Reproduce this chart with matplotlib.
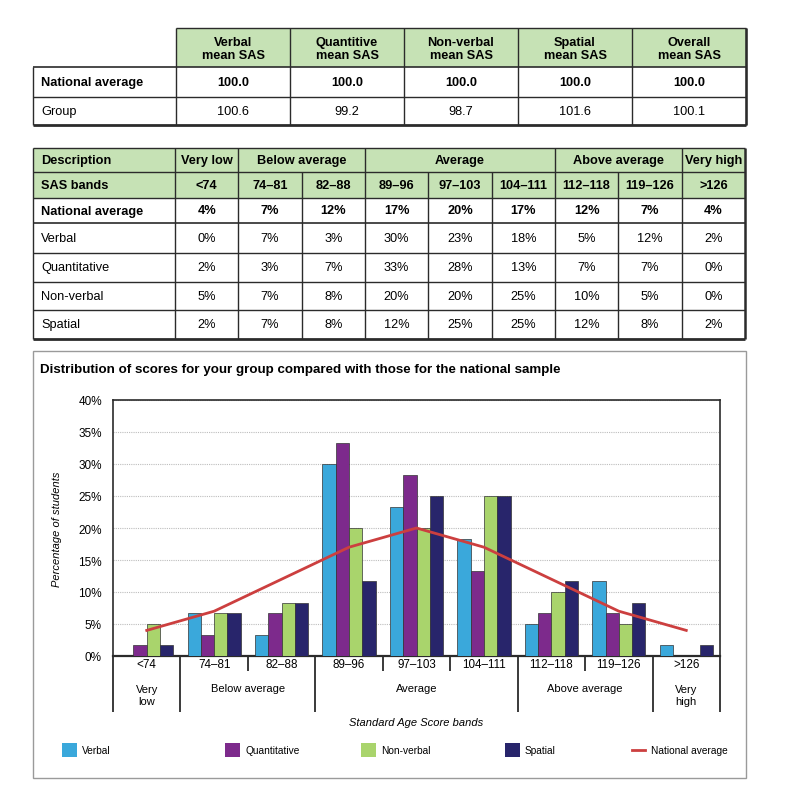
import matplotlib
matplotlib.use("Agg")
import matplotlib.pyplot as plt
from matplotlib.patches import Rectangle

plt.rcParams['font.family'] = ['Liberation Sans', 'DejaVu Sans']

# ---------------- data ----------------
mean_headers = ["Verbal\nmean SAS", "Quantitive\nmean SAS", "Non-verbal\nmean SAS",
                "Spatial\nmean SAS", "Overall\nmean SAS"]
mean_national = ["100.0", "100.0", "100.0", "100.0", "100.0"]
mean_group = ["100.6", "99.2", "98.7", "101.6", "100.1"]

desc_groups = ["Very low", "Below average", "Average", "Above average", "Very high"]
desc_spans = [1, 2, 3, 2, 1]
bands = ["<74", "74–81", "82–88", "89–96", "97–103", "104–111", "112–118", "119–126", ">126"]
table_rows = ["National average", "Verbal", "Quantitative", "Non-verbal", "Spatial"]
table_pct = [
    [4, 7, 12, 17, 20, 17, 12, 7, 4],
    [0, 7, 3, 30, 23, 18, 5, 12, 2],
    [2, 3, 7, 33, 28, 13, 7, 7, 0],
    [5, 7, 8, 20, 20, 25, 10, 5, 0],
    [2, 7, 8, 12, 25, 25, 12, 8, 2],
]

series_names = ["Verbal", "Quantitative", "Non-verbal", "Spatial"]
verbal = [0, 6.7, 3.3, 30.0, 23.3, 18.3, 5.0, 11.7, 1.7]
quantitative = [1.7, 3.3, 6.7, 33.3, 28.3, 13.3, 6.7, 6.7, 0]
nonverbal = [5.0, 6.7, 8.3, 20.0, 20.0, 25.0, 10.0, 5.0, 0]
spatial = [1.7, 6.7, 8.3, 11.7, 25.0, 25.0, 11.7, 8.3, 1.7]
national = [4, 7, 12, 17, 20, 17, 12, 7, 4]
yticks = [0, 5, 10, 15, 20, 25, 30, 35, 40]

colors = ["#3AA8DB", "#7D2A8C", "#A9D46C", "#28256B"]
nat_color = "#CC3F3F"
green = "#C6E2B5"
dark = "#2b2b2b"

W, H = 787, 803
fig = plt.figure(figsize=(W / 100, H / 100), dpi=100)
lay = fig.add_axes([0, 0, 1, 1])
lay.set_xlim(0, W)
lay.set_ylim(H, 0)
lay.axis("off")


def rect(x0, y0, x1, y1, fc):
    lay.add_patch(Rectangle((x0, y0), x1 - x0, y1 - y0, facecolor=fc, edgecolor="none"))


def hl(y, x0, x1, lw=1.0, c=dark):
    lay.plot([x0, x1], [y, y], color=c, lw=lw, solid_capstyle="butt")


def vl(x, y0, y1, lw=1.0, c=dark):
    lay.plot([x, x], [y0, y1], color=c, lw=lw, solid_capstyle="butt")


FS = 9.2

# ---------------- table 1 ----------------
t1_left, t1_lab, t1_right = 33, 176, 746
t1_rows = [29, 68, 98, 126]
cw1 = (t1_right - t1_lab) / 5
rect(t1_lab, t1_rows[0], t1_right, t1_rows[1], green)
hl(t1_rows[0], t1_lab, t1_right)
hl(t1_rows[1], t1_left, t1_right, lw=1.2)
hl(t1_rows[2], t1_left, t1_right)
hl(t1_rows[3], t1_left, t1_right, lw=2)
vl(t1_left, t1_rows[1], t1_rows[3])
vl(t1_right, t1_rows[0], t1_rows[3], lw=1.8)
for j in range(6):
    vl(t1_lab + j * cw1, t1_rows[0], t1_rows[3])
for j in range(5):
    cx = t1_lab + (j + 0.5) * cw1
    lay.text(cx, (t1_rows[0] + t1_rows[1]) / 2 + 1, mean_headers[j], ha="center", va="center",
             fontsize=FS, fontweight="bold", linespacing=1.05)
    lay.text(cx, (t1_rows[1] + t1_rows[2]) / 2, mean_national[j], ha="center", va="center",
             fontsize=FS, fontweight="bold")
    lay.text(cx, (t1_rows[2] + t1_rows[3]) / 2, mean_group[j], ha="center", va="center",
             fontsize=FS)
lay.text(41, (t1_rows[1] + t1_rows[2]) / 2, "National average", ha="left", va="center",
         fontsize=FS, fontweight="bold")
lay.text(41, (t1_rows[2] + t1_rows[3]) / 2, "Group", ha="left", va="center", fontsize=FS)

# ---------------- table 2 ----------------
t2_left, t2_lab, t2_right = 33, 175, 745
t2_rows = [149, 173, 199, 224, 254, 283, 311, 340]
cw2 = (t2_right - t2_lab) / 9
rect(t2_left, t2_rows[0], t2_right, t2_rows[2], green)
for i, y in enumerate(t2_rows):
    lw = 2 if i == len(t2_rows) - 1 else (1.2 if i == 3 else 1.0)
    hl(y, t2_left, t2_right, lw=lw)
vl(t2_left, t2_rows[0], t2_rows[-1])
vl(t2_right, t2_rows[0], t2_rows[-1], lw=1.8)
vl(t2_lab, t2_rows[0], t2_rows[-1])
pos = 0
bounds = []
for s in desc_spans:
    pos += s
    bounds.append(pos)
for k in range(1, 9):
    x = t2_lab + k * cw2
    if k in bounds:
        vl(x, t2_rows[0], t2_rows[-1])
    else:
        vl(x, t2_rows[1], t2_rows[-1])
pos = 0
for name, s in zip(desc_groups, desc_spans):
    cx = t2_lab + (pos + s / 2) * cw2
    lay.text(cx, (t2_rows[0] + t2_rows[1]) / 2, name, ha="center", va="center",
             fontsize=FS, fontweight="bold")
    pos += s
lay.text(41, (t2_rows[0] + t2_rows[1]) / 2, "Description", ha="left", va="center",
         fontsize=FS, fontweight="bold")
lay.text(41, (t2_rows[1] + t2_rows[2]) / 2, "SAS bands", ha="left", va="center",
         fontsize=FS, fontweight="bold")
for k, b in enumerate(bands):
    lay.text(t2_lab + (k + 0.5) * cw2, (t2_rows[1] + t2_rows[2]) / 2, b, ha="center",
             va="center", fontsize=FS, fontweight="bold")
for r, (lab, vals) in enumerate(zip(table_rows, table_pct)):
    cy = (t2_rows[r + 2] + t2_rows[r + 3]) / 2
    fw = "bold" if r == 0 else "normal"
    lay.text(41, cy, lab, ha="left", va="center", fontsize=FS, fontweight=fw)
    for k, v in enumerate(vals):
        lay.text(t2_lab + (k + 0.5) * cw2, cy, f"{v}%", ha="center", va="center",
                 fontsize=FS, fontweight=fw)

# ---------------- chart panel ----------------
lay.add_patch(Rectangle((33, 352), 746 - 33, 779 - 352, facecolor="none",
                        edgecolor="#9a9a9a", lw=1.0))
lay.text(40, 370, "Distribution of scores for your group compared with those for the national sample",
         ha="left", va="center", fontsize=9.6, fontweight="bold")

ax_l, ax_r, ax_t, ax_b = 113, 720, 401, 657
ax = fig.add_axes([ax_l / W, (H - ax_b) / H, (ax_r - ax_l) / W, (ax_b - ax_t) / H])
ax.set_facecolor("white")
x = list(range(len(bands)))
bw = 0.197
series = [verbal, quantitative, nonverbal, spatial]
for s_i, (vals, c) in enumerate(zip(series, colors)):
    off = (s_i - 1.5) * bw
    ax.bar([xi + off for xi in x], vals, width=bw, color=c, edgecolor="#333333",
           linewidth=0.5, zorder=3)
ax.plot(x, national, color=nat_color, lw=2, zorder=4)
ax.set_xlim(-0.5, len(bands) - 0.5)
ax.set_ylim(0, 40)
ax.set_yticks(yticks)
ax.set_yticklabels([f"{t}%" for t in yticks], fontsize=8.5)
ax.tick_params(axis="y", length=0, pad=8)
ax.set_xticks([])
ax.yaxis.grid(True, linestyle=(0, (1, 1)), color="#bdbdbd", lw=0.8, zorder=0)
ax.set_axisbelow(True)
for sp in ["left", "top", "right"]:
    ax.spines[sp].set_color(dark)
    ax.spines[sp].set_linewidth(1.2)
ax.spines["bottom"].set_color(dark)
ax.spines["bottom"].set_linewidth(1.6)

ph = ax_b - ax_t


def yf(py):
    return (ax_b - py) / ph


xt = ax.get_xaxis_transform()
for k, b in enumerate(bands):
    ax.text(k, yf(665), b, transform=xt, ha="center", va="center", fontsize=8.4, clip_on=False)
pos = 0
tall_x = [-0.5]
for name, s in zip(desc_groups, desc_spans):
    cx = pos + s / 2 - 0.5
    label = name.replace(" ", "\n") if s == 1 else name
    cy = yf(696) if s == 1 else yf(689)
    ax.text(cx, cy, label, transform=xt, ha="center", va="center", fontsize=8,
            linespacing=1.15, clip_on=False)
    pos += s
    tall_x.append(pos - 0.5)
short_x = [k - 0.5 for k in range(1, 9) if (k - 0.5) not in tall_x]
ax.vlines(tall_x, yf(713), 0, transform=xt, colors=dark, lw=1.3, clip_on=False)
ax.vlines(short_x, yf(672), 0, transform=xt, colors=dark, lw=1.3, clip_on=False)
ax.text(0.5, yf(723), "Standard Age Score bands", transform=ax.transAxes, ha="center",
        va="center", fontsize=8, style="italic", clip_on=False)
ax.text((57 - ax_l) / (ax_r - ax_l), 0.5, "Percentage of students", transform=ax.transAxes,
        ha="center", va="center", rotation=90, fontsize=8, style="italic", clip_on=False)

# ---------------- legend ----------------
leg_x = [62, 225, 361, 505]
for lx, name, c in zip(leg_x, series_names, colors):
    lay.add_patch(Rectangle((lx, 744), 15, 14, facecolor=c, edgecolor="none"))
    lay.text(lx + 20, 751, name, ha="left", va="center", fontsize=7.3)
lay.plot([632, 645], [751, 751], color=nat_color, lw=2)
lay.text(651, 751, "National average", ha="left", va="center", fontsize=7.3)

fig.savefig("out.png", dpi=100, facecolor="white")
